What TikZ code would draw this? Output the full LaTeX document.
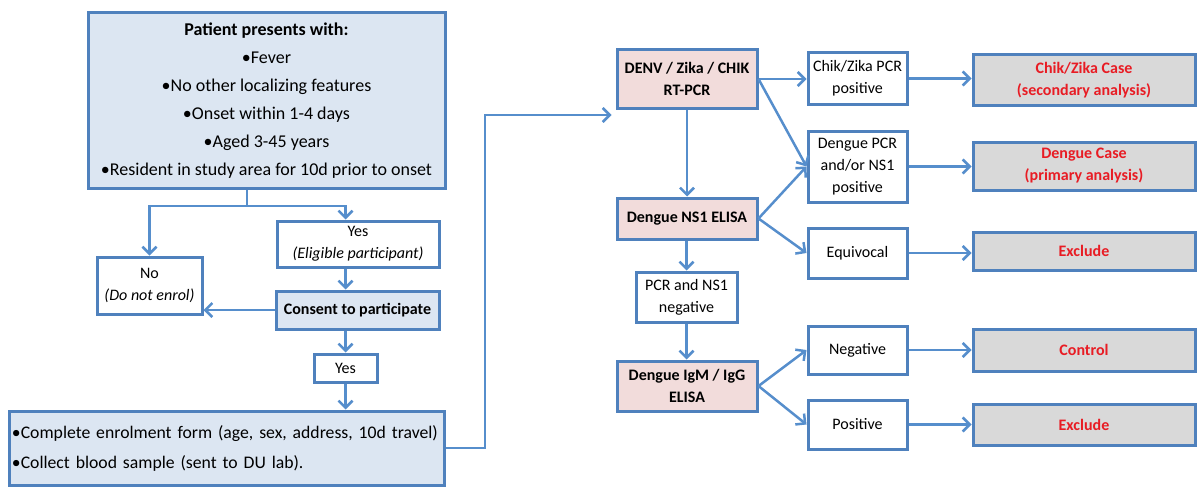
\documentclass[tikz,border=0pt]{standalone}
\usepackage{fontspec}
\setmainfont{Carlito}
\usetikzlibrary{arrows.meta}

\definecolor{boxblue}{RGB}{79,129,189}
\definecolor{lineblue}{RGB}{86,142,204}
\definecolor{paleblue}{RGB}{220,230,242}
\definecolor{palepink}{RGB}{242,220,219}
\definecolor{palegrey}{RGB}{217,217,217}
\definecolor{casered}{RGB}{232,28,36}

\tikzset{
box/.style={draw=boxblue, line width=3pt, inner sep=2pt, align=center, font=\fontsize{16}{22}\selectfont},
plain/.style={box, fill=white},
entry/.style={box, fill=paleblue},
assay/.style={box, fill=palepink, font=\fontsize{16}{22}\selectfont\bfseries},
result/.style={box, fill=palegrey, text=casered, font=\fontsize{16}{22}\selectfont\bfseries},
flow/.style={draw=lineblue, line width=2.5pt, -{Straight Barb[length=7pt,width=14pt]}},
}

\newcommand{\boxcorners}[7]{%
\node[#1, minimum width={(#5-#3)*1pt}, minimum height={(#6-#4)*1pt}] (#2) at ({(#3+#5)/2},{(#4+#6)/2}) {#7};
}

\begin{document}
\begin{tikzpicture}[x=1pt,y=-1pt]

\useasboundingbox (0,0) rectangle (1197,487);

\boxcorners{entry, font=\fontsize{18}{28}\selectfont}{patient}{88}{13}{445}{188}{\textbf{Patient presents with:}\\ \textbullet{}Fever\\ \textbullet{}No other localizing features\\ \textbullet{}Onset within 1-4 days\\ \textbullet{}Aged 3-45 years\\ \textbullet{}Resident in study area for 10d prior to onset}

\boxcorners{plain}{elig}{277}{221}{439}{267}{Yes\\ \textit{(Eligible participant)}}
\boxcorners{plain}{no}{97}{257}{202}{314}{No\\ \textit{(Do not enrol)}}
\boxcorners{entry, font=\fontsize{16}{22}\selectfont\bfseries}{consent}{276}{291}{439}{329}{Consent to participate}
\boxcorners{plain}{ok}{314}{354}{377}{382}{Yes}
\boxcorners{entry, align=left, inner xsep=3pt, text width=429pt, font=\fontsize{17.7}{30}\selectfont}{enrol}{9}{411}{444}{485}{\textbullet{}Complete enrolment form (age, sex, address, 10d travel)\\ \textbullet{}Collect blood sample (sent to DU lab).}

\boxcorners{assay}{denv}{617}{50}{757}{108}{DENV / Zika / CHIK\\ RT-PCR}
\boxcorners{assay}{ns1}{617}{198}{757}{239}{Dengue NS1 ELISA}
\boxcorners{plain}{pcrneg}{636}{272}{737}{322}{PCR and NS1\\ negative}
\boxcorners{assay}{igm}{617}{361}{757}{411}{Dengue IgM / IgG\\ ELISA}

\boxcorners{plain}{chikpos}{808}{53}{907}{104}{Chik/Zika PCR\\ positive}
\boxcorners{plain}{denpos}{808}{131}{907}{202}{Dengue PCR\\ and/or NS1\\ positive}
\boxcorners{plain}{equiv}{808}{228}{907}{278}{Equivocal}
\boxcorners{plain}{igmneg}{808}{326}{907}{374}{Negative}
\boxcorners{plain}{igmpos}{808}{400}{907}{449}{Positive}

\boxcorners{result}{chikcase}{973}{55}{1195}{105}{Chik/Zika Case\\ (secondary analysis)}
\boxcorners{result}{dencase}{973}{142}{1195}{190}{Dengue Case\\ (primary analysis)}
\boxcorners{result}{exclone}{973}{232}{1195}{270}{Exclude}
\boxcorners{result}{control}{973}{329}{1195}{371}{Control}
\boxcorners{result}{excltwo}{973}{404}{1195}{445}{Exclude}

% enrolment side
\coordinate (split) at (247,206);
\draw[flow, -] (split |- patient.south) -- (split);
\draw[flow] (split) -| (no.north);
\draw[flow] (split) -| (ok |- elig.north);
\draw[flow] (ok |- elig.south) -- (ok |- consent.north);
\draw[flow] (consent.west) -- (consent.west -| no.east);
\draw[flow] (ok |- consent.south) -- (ok.north);
\draw[flow] (ok.south) -- (ok |- enrol.north);

\coordinate (bend) at (485,115);
\draw[flow, shorten >=4pt] (enrol.east) -| (bend) -- (bend -| denv.west);

% testing side
\draw[flow] (denv.east) -- (denv.east -| chikpos.west);
\draw[flow] (denv.east) -- (denpos.west);
\draw[flow] (denv.south) -- (ns1.north);
\draw[flow] (ns1.south -| pcrneg.north) -- (pcrneg.north);
\draw[flow] (pcrneg.south) -- (igm.north -| pcrneg.south);

\foreach \b in {denpos,equiv}
\draw[flow] (ns1.east) -- (\b.west);

\foreach \b in {igmneg,igmpos}
\draw[flow] (igm.east) -- (\b.west);

\foreach \a/\b in {chikpos/chikcase,denpos/dencase,equiv/exclone,igmneg/control,igmpos/excltwo}
\draw[flow] (\a.east) -- (\a.east -| \b.west);

\end{tikzpicture}
\end{document}
